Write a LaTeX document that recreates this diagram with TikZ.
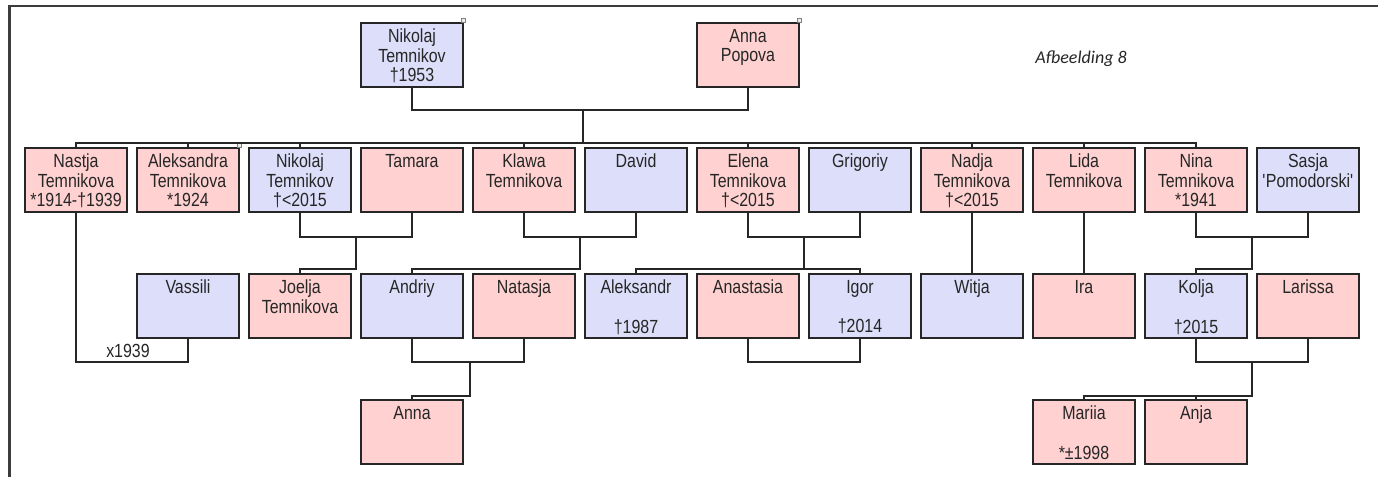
\documentclass[tikz,border=0pt]{standalone}
\usepackage{fontspec}
\setmainfont{Liberation Sans}
\newfontfamily\narrowfont[FakeStretch=0.84]{Liberation Sans}
\newfontfamily\capfont{Carlito}
\definecolor{she}{RGB}{255,209,209}
\definecolor{he}{RGB}{221,222,250}
\definecolor{ink}{RGB}{38,38,38}
\newcommand{\who}[1]{\parbox[t][52pt][t]{100pt}{\centering #1}}
\tikzset{
  person/.style={draw=ink, line width=1.6pt, minimum width=102pt, minimum height=64pt,
    inner xsep=0pt, inner ysep=6pt, text=ink, font=\narrowfont\fontsize{19}{19.5}\selectfont},
  woman/.style={person, fill=she},
  man/.style={person, fill=he},
  link/.style={draw=ink, line width=1.6pt},
  tag/.style={draw=gray, fill=gray!15, line width=0.6pt, minimum size=4pt, inner sep=0pt}
}
\begin{document}
\begin{tikzpicture}[x=1pt,y=-1pt]
\useasboundingbox (0,0) rectangle (1378,477);
% frame
\draw[line width=2.6pt, draw=ink!90] (9.5,477) -- (9.5,6) -- (1378,6);
\node[font=\capfont\itshape\fontsize{18}{20}\selectfont, text=ink, anchor=base] (title) at (1081,63) {Afbeelding 8};
% parents
\node[man] (nikolaj) at (412,55) {\who{Nikolaj\\Temnikov\\†1953}};
\node[woman] (anna) at (748,55) {\who{Anna\\Popova}};
% children
\node[woman] (nastja) at (76,180) {\who{Nastja\\Temnikova\\{}*1914-†1939}};
\node[woman] (aleksandra) at (188,180) {\who{Aleksandra\\Temnikova\\{}*1924}};
\node[man] (nikolajjr) at (300,180) {\who{Nikolaj\\Temnikov\\†<2015}};
\node[woman] (tamara) at (412,180) {\who{Tamara}};
\node[woman] (klawa) at (524,180) {\who{Klawa\\Temnikova}};
\node[man] (david) at (636,180) {\who{David}};
\node[woman] (elena) at (748,180) {\who{Elena\\Temnikova\\†<2015}};
\node[man] (grigoriy) at (860,180) {\who{Grigoriy}};
\node[woman] (nadja) at (972,180) {\who{Nadja\\Temnikova\\†<2015}};
\node[woman] (lida) at (1084,180) {\who{Lida\\Temnikova}};
\node[woman] (nina) at (1196,180) {\who{Nina\\Temnikova\\{}*1941}};
\node[man] (sasja) at (1308,180) {\who{Sasja\\\textquotesingle Pomodorski\textquotesingle}};
% grandchildren
\node[man] (vassili) at (188,306) {\who{Vassili}};
\node[woman] (joelja) at (300,306) {\who{Joelja\\Temnikova}};
\node[man] (andriy) at (412,306) {\who{Andriy}};
\node[woman] (natasja) at (524,306) {\who{Natasja}};
\node[man] (aleksandr) at (636,306) {\who{Aleksandr\\[20pt]†1987}};
\node[woman] (anastasia) at (748,306) {\who{Anastasia}};
\node[man] (igor) at (860,306) {\who{Igor\\[20pt]†2014}};
\node[man] (witja) at (972,306) {\who{Witja}};
\node[woman] (ira) at (1084,306) {\who{Ira}};
\node[man] (kolja) at (1196,306) {\who{Kolja\\[20pt]†2015}};
\node[woman] (larissa) at (1308,306) {\who{Larissa}};
% great-grandchildren
\node[woman] (annajr) at (412,432) {\who{Anna}};
\node[woman] (mariia) at (1084,432) {\who{Mariia\\[20pt]*±1998}};
\node[woman] (anja) at (1196,432) {\who{Anja}};
% corner tags
\node[tag] at ([xshift=-1pt,yshift=2pt]nikolaj.north east) {};
\node[tag] at ([xshift=-1pt,yshift=2pt]anna.north east) {};
\node[tag] at ([xshift=-1pt,yshift=2pt]aleksandra.north east) {};
% lines
\coordinate (top) at (583,109);
\coordinate (sib) at (583,143);
\draw[link] (nikolaj.south) -- ++(0,22) -| (anna.south);
\draw[link] (top) -- (sib);
\foreach \kid in {nastja,aleksandra,nikolajjr,klawa,elena,nadja,lida,nina}
  \draw[link] (sib) -| (\kid.north);
\draw[link] (nastja.south) -- ++(0,149) -| (vassili.south);
\node[text=ink, font=\narrowfont\fontsize{19}{19.5}\selectfont, anchor=base] (wed) at (128,357) {x1939};
\coordinate (c1) at (356,236);
\draw[link] (nikolajjr.south) -- ++(0,24) -| (tamara.south);
\draw[link] (c1) -- ++(0,33) -| (joelja.north);
\coordinate (c2) at (580,236);
\draw[link] (klawa.south) -- ++(0,24) -| (david.south);
\draw[link] (c2) -- ++(0,33) -| (andriy.north);
\coordinate (c3) at (804,236);
\draw[link] (elena.south) -- ++(0,24) -| (grigoriy.south);
\draw[link] (c3) -- ++(0,33) -| (aleksandr.north);
\draw[link] (c3) ++(0,33) -| (igor.north);
\draw[link] (nadja.south) -- (witja.north);
\draw[link] (lida.south) -- (ira.north);
\coordinate (c4) at (1252,236);
\draw[link] (nina.south) -- ++(0,24) -| (sasja.south);
\draw[link] (c4) -- ++(0,33) -| (kolja.north);
\coordinate (c5) at (470,361);
\draw[link] (andriy.south) -- ++(0,23) -| (natasja.south);
\draw[link] (c5) -- ++(0,35) -| (annajr.north);
\draw[link] (anastasia.south) -- ++(0,23) -| (igor.south);
\coordinate (c6) at (1252,361);
\draw[link] (kolja.south) -- ++(0,23) -| (larissa.south);
\draw[link] (c6) -- ++(0,35) -| (mariia.north);
\draw[link] (c6) ++(0,35) -| (anja.north);
\end{tikzpicture}
\end{document}
